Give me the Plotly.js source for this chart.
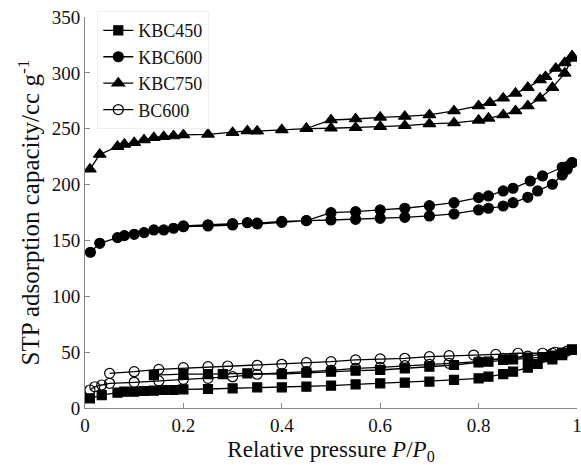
<!DOCTYPE html>
<html>
<head>
<meta charset="utf-8">
<script src="https://cdn.plot.ly/plotly-3.0.1.min.js"></script>
<style>html,body{margin:0;padding:0;background:#fff;}#chart{width:581px;height:465px;}
#chart text{font-family:"Liberation Serif", serif !important;}</style>
</head>
<body>
<div id="chart"></div>
<script>
// KBC450
const kbc450AdsP = [0.01,0.034,0.066,0.08,0.10,0.12,0.14,0.16,0.18,0.20,0.25,0.30,0.35,0.40,0.45,0.50,0.55,0.60,0.65,0.70,0.75,0.80,0.82,0.85,0.87,0.90,0.92,0.95,0.97,0.99];
const kbc450AdsV = [8.7,11.6,13.7,14.6,14.6,15.2,15.5,16.1,16.1,16.7,17.0,17.6,18.5,18.5,19.1,20.0,21.2,22.1,22.7,23.6,25.1,26.6,28.0,30.4,32.5,36.1,39.4,43.6,47.4,51.9];
const kbc450DesP = [0.99,0.97,0.95,0.93,0.90,0.87,0.85,0.82,0.80,0.75,0.70,0.65,0.60,0.55,0.50,0.45,0.40,0.33,0.28,0.25,0.20,0.14];
const kbc450DesV = [52.5,49.5,47.0,45.5,44.5,43.6,43.0,41.5,40.9,38.5,37.0,35.5,34.0,33.4,32.5,31.6,30.4,31.0,30.4,30.4,30.4,29.5];
// KBC600
const kbc600AdsP = [0.011,0.03,0.066,0.08,0.10,0.12,0.14,0.16,0.18,0.20,0.25,0.30,0.33,0.35,0.40,0.45,0.50,0.55,0.60,0.65,0.70,0.75,0.80,0.82,0.85,0.87,0.90,0.92,0.95,0.97,0.98,0.99];
const kbc600AdsV = [139.4,147.4,152.5,154.3,155.5,157.0,159.4,159.4,160.9,162.3,162.9,163.8,165.9,164.7,166.2,167.7,168.3,168.9,169.8,170.7,171.9,173.7,177.3,178.8,180.8,183.8,188.6,194.3,200.3,208.6,213.7,219.6];
const kbc600DesP = [0.99,0.98,0.97,0.93,0.905,0.87,0.85,0.82,0.80,0.75,0.70,0.65,0.60,0.55,0.50,0.45,0.40,0.35,0.30,0.25,0.20];
const kbc600DesV = [219.6,216.0,215.5,207.7,203.2,196.7,194.3,189.8,188.3,183.8,181.1,178.8,177.3,175.7,174.8,167.7,167.0,165.5,165.0,164.0,163.0];
// KBC750
const kbc750AdsP = [0.01,0.03,0.066,0.08,0.10,0.12,0.14,0.16,0.18,0.20,0.25,0.30,0.33,0.35,0.40,0.45,0.50,0.55,0.60,0.65,0.70,0.75,0.80,0.82,0.85,0.875,0.90,0.925,0.95,0.975,0.99];
const kbc750AdsV = [213.7,227.0,234.0,236.0,237.5,240.0,242.0,242.9,243.5,244.4,245.0,246.5,248.0,247.8,249.0,250.0,250.4,250.9,251.9,252.7,254.3,255.2,257.5,259.3,262.3,265.9,270.4,277.3,286.8,299.6,313.0];
const kbc750DesP = [0.99,0.975,0.957,0.936,0.925,0.90,0.875,0.85,0.823,0.80,0.75,0.70,0.65,0.60,0.55,0.50,0.45];
const kbc750DesV = [315.0,309.0,304.0,296.6,293.6,286.8,281.7,277.3,273.3,270.4,265.9,262.3,261.0,260.2,258.7,257.8,250.2];
// BC600
const bc600AdsP = [0.01,0.02,0.034,0.05,0.10,0.15,0.20,0.25,0.30,0.35,0.40,0.45,0.50,0.55,0.60,0.65,0.70,0.74,0.80,0.85,0.90,0.95,0.98];
const bc600AdsV = [16.1,19.0,20.6,22.1,23.0,24.2,25.7,26.6,28.0,30.2,31.1,32.5,33.6,35.5,36.4,37.9,39.1,40.0,41.5,44.5,46.5,49.0,51.0];
const bc600DesP = [0.955,0.93,0.88,0.835,0.79,0.74,0.70,0.65,0.60,0.55,0.50,0.45,0.40,0.35,0.29,0.25,0.20,0.15,0.10,0.05];
const bc600DesV = [49.9,49.0,49.0,48.0,47.4,46.8,45.9,44.5,43.9,43.0,41.5,40.6,39.1,38.2,37.6,37.0,36.1,34.6,32.5,31.0];

const names = ['KBC450','KBC600','KBC750','BC600'];
const symbols = ['square','circle','triangle-up','circle-open'];
const sizes = [9,10,11,10];
const sets = [
  [kbc450AdsP,kbc450AdsV,kbc450DesP,kbc450DesV],
  [kbc600AdsP,kbc600AdsV,kbc600DesP,kbc600DesV],
  [kbc750AdsP,kbc750AdsV,kbc750DesP,kbc750DesV],
  [bc600AdsP,bc600AdsV,bc600DesP,bc600DesV]
];
const traces = sets.map((s,i)=>({
  type:'scatter', mode:'lines+markers', name:names[i],
  x: s[0].concat(s[2]), y: s[1].concat(s[3]),
  line:{color:'#000',width:1.3},
  marker:{symbol:symbols[i],size:sizes[i],color:'#000',line:{color:'#000',width:1.2}}
}));

const serif = 'Liberation Serif';
const layout = {
  width:581, height:465,
  margin:{l:85,r:4,t:17,b:57},
  paper_bgcolor:'#fff', plot_bgcolor:'#fff',
  font:{family:serif, color:'#111', size:19},
  showlegend:true,
  legend:{x:0.025,y:1.015,xanchor:'left',yanchor:'top',bgcolor:'rgba(255,255,255,0.85)',
    bordercolor:'#eee',borderwidth:1,font:{family:serif,size:18,color:'#111'},
    itemwidth:30,tracegroupgap:0},
  xaxis:{range:[0,1],tickvals:[0,0.2,0.4,0.6,0.8,1],ticktext:['0','0.2','0.4','0.6','0.8','1'],
    ticklabeloverflow:'allow',
    ticks:'inside',ticklen:5,tickcolor:'#888',showline:true,linecolor:'#888',linewidth:1,
    showgrid:false,zeroline:false,mirror:false,tickfont:{family:serif,size:19},
    title:{text:'Relative pressure <i>P</i>/<i>P</i><sub>0</sub>',font:{family:serif,size:23},standoff:6}},
  yaxis:{range:[0,350],tickvals:[0,50,100,150,200,250,300,350],
    ticks:'inside',ticklen:5,tickcolor:'#888',showline:true,linecolor:'#888',linewidth:1,
    showgrid:false,zeroline:false,tickfont:{family:serif,size:19},
    title:{text:'STP adsorption capacity/cc g<sup>-1</sup>',font:{family:serif,size:25},standoff:4}}
};
Plotly.newPlot('chart',traces,layout,{displayModeBar:false,staticPlot:true});
</script>
</body>
</html>
